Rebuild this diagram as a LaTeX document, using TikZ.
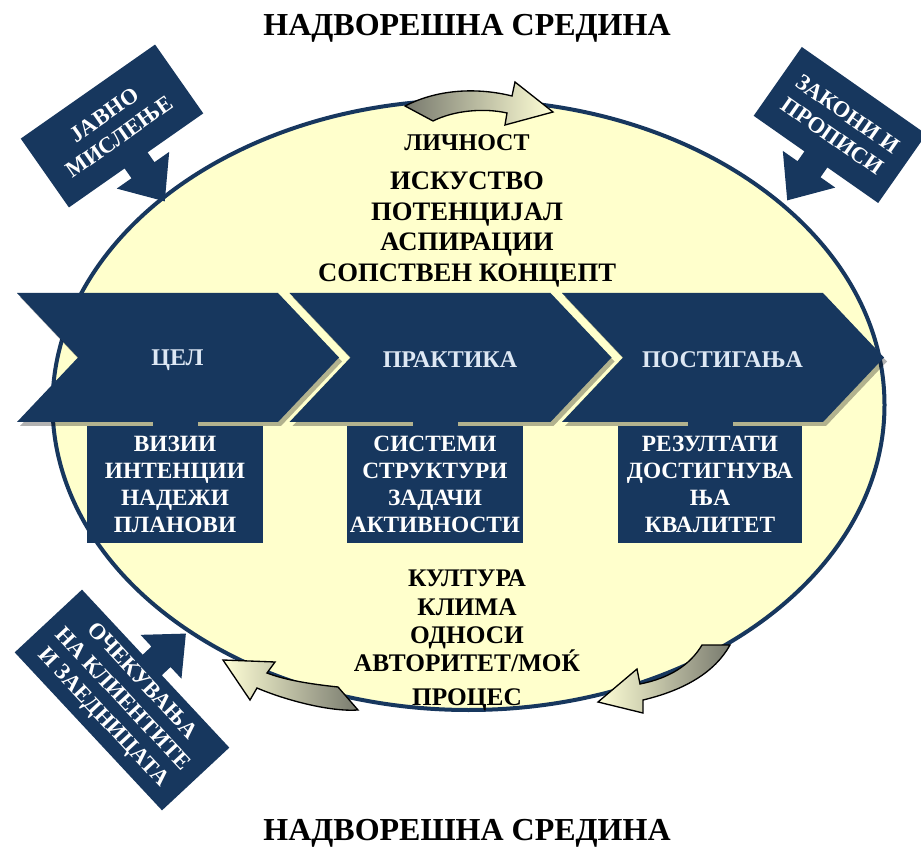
\documentclass[tikz,border=0pt]{standalone}
\usepackage{fontspec}
\setmainfont{Liberation Serif}
\usetikzlibrary{positioning}

\definecolor{navy}{RGB}{23,55,94}
\definecolor{ellfill}{RGB}{255,255,204}
\definecolor{chevtext}{RGB}{222,232,244}
\definecolor{arrgrey}{RGB}{120,122,110}
\definecolor{arrlight}{RGB}{255,255,214}

\begin{document}
\begin{tikzpicture}[x=0.75pt,y=0.75pt,yscale=-1,xscale=1,
  title/.style={font=\bfseries\fontsize{24}{28}\selectfont, inner sep=0pt},
  inlbl/.style={font=\bfseries\fontsize{20}{22}\selectfont, inner sep=0pt, anchor=base},
  lowlbl/.style={font=\bfseries\fontsize{19}{21}\selectfont, inner sep=0pt, anchor=base},
  boxlbl/.style={fill=navy, text=white, font=\bfseries\fontsize{17.5}{20.25}\selectfont, align=center, minimum height=87.75pt, inner sep=0pt},
  chevlbl/.style={text=chevtext, font=\bfseries\fontsize{18}{20}\selectfont, inner sep=0pt},
  arrlbl/.style={text=white, font=\bfseries\fontsize{17}{20}\selectfont, align=center, inner sep=0pt},
  curvarr/.style={draw=black, line width=1pt, line join=miter}]
		\useasboundingbox (0,0) rectangle (921,848);
		\fill[white] (0,0) rectangle (921,848);

		%Shape: Ellipse
		\draw[navy, line width=3pt, fill=ellfill] (468.5,405) ellipse [x radius=416, y radius=305];

		%Curve Arrow top
		\shadedraw[curvarr, left color=arrgrey, middle color=arrlight, right color=arrlight] (405,106) .. controls (440,88) and (480,88) .. (512,96) -- (515,82) -- (553,112) -- (505,125) -- (507,113) .. controls (485,108) and (455,110) .. (433,121) -- cycle;
		%Curve Arrow bottom left
		\shadedraw[curvarr, left color=arrlight, middle color=arrlight, right color=arrgrey] (338,687) .. controls (310,684) and (285,680) .. (267,673) -- (275,662) -- (223,660) -- (250,700) -- (257,688) .. controls (285,700) and (330,712) .. (358,710) -- cycle;
		%Curve Arrow bottom right
		\shadedraw[curvarr, left color=arrlight, middle color=arrlight, right color=arrgrey] (702,645) .. controls (690,665) and (670,678) .. (640,684) -- (637,669) -- (598,702) -- (643,713) -- (643,700) .. controls (685,690) and (715,672) .. (730,645) -- cycle;

		%Chevrons
		\foreach \x/\t/\n in {17/ЦЕЛ/ch1, 289.5/ПРАКТИКА/ch2, 562/ПОСТИГАЊА/ch3}{
			\fill[black, opacity=0.3] (\x+3,297) -- (\x+264,297) -- (\x+325,361.5) -- (\x+264,426) -- (\x+3,426) -- (\x+64,361.5) -- cycle;
			\fill[navy] (\x,293) -- (\x+261,293) -- (\x+322,357.5) -- (\x+261,422) -- (\x,422) -- (\x+61,357.5) -- cycle;
			\node[chevlbl] (\n) at (\x+160.5,360) {\t};
		}

		%Boxes under the chevrons
		\node[boxlbl, minimum width=132pt] (bx1) at (175,484.5) {ВИЗИИ\\ИНТЕНЦИИ\\НАДЕЖИ\\ПЛАНОВИ};
		\node[boxlbl, minimum width=132pt] (bx2) at (435,484.5) {СИСТЕМИ\\СТРУКТУРИ\\ЗАДАЧИ\\АКТИВНОСТИ};
		\node[boxlbl, minimum width=138pt] (bx3) at (710,484.5) {РЕЗУЛТАТИ\\ДОСТИГНУВА\\ЊА\\КВАЛИТЕТ};
		\foreach \b in {bx1,bx2,bx3}{
			\draw[navy, line width=33.75pt] (\b.north) -- ++(0,-10);
		}

		% Text Node
		\node[title] (top) at (467,28) {НАДВОРЕШНА СРЕДИНА};
		% Text Node
		\node[title] (bottom) at (467,833) {НАДВОРЕШНА СРЕДИНА};

		% Text Node
		\node[inlbl, font=\bfseries\fontsize{18}{20}\selectfont] (lich) at (467,151) {ЛИЧНОСТ};
		\node[inlbl] (isk) at (467,190) {ИСКУСТВО};
		\node[inlbl] (pot) at (467,221) {ПОТЕНЦИЈАЛ};
		\node[inlbl] (asp) at (467,251) {АСПИРАЦИИ};
		\node[inlbl] (sop) at (467,282) {СОПСТВЕН КОНЦЕПТ};
		% Text Node
		\node[lowlbl] (kul) at (467,586) {КУЛТУРА};
		\node[lowlbl] (kli) at (467,615) {КЛИМА};
		\node[lowlbl] (odn) at (467,643) {ОДНОСИ};
		\node[lowlbl] (avt) at (467,671) {АВТОРИТЕТ/МОЌ};
		\node[lowlbl] (pro) at (467,705) {ПРОЦЕС};

		%Arrow Box top left
		\begin{scope}[shift={(112,126)}, rotate=-35]
			\fill[navy] (-82,-42) -- (82,-42) -- (82,42) -- (14,42) -- (14,54) -- (32,54) -- (0,92) -- (-32,54) -- (-14,54) -- (-14,42) -- (-82,42) -- cycle;
			\node[arrlbl, rotate=35] (javno) at (0,0) {ЈАВНО\\МИСЛЕЊЕ};
		\end{scope}
		%Arrow Box top right
		\begin{scope}[shift={(840,125)}, rotate=35]
			\fill[navy] (-76,-42) -- (76,-42) -- (76,42) -- (14,42) -- (14,54) -- (32,54) -- (0,92) -- (-32,54) -- (-14,54) -- (-14,42) -- (-76,42) -- cycle;
			\node[arrlbl, rotate=-35] (zakoni) at (0,0) {ЗАКОНИ И\\ПРОПИСИ};
		\end{scope}
		%Arrow Box bottom left
		\begin{scope}[shift={(122,700)}, rotate=47]
			\fill[navy] (-108,-46) -- (-19,-46) -- (-19,-58) -- (-35,-58) -- (-5,-92) -- (25,-58) -- (9,-58) -- (9,-46) -- (108,-46) -- (108,46) -- (-108,46) -- cycle;
			\node[arrlbl, rotate=-47] (ocek) at (0,0) {ОЧЕКУВАЊА\\НА КЛИЕНТИТЕ\\И ЗАЕДНИЦАТА};
		\end{scope}

	\end{tikzpicture}
\end{document}
